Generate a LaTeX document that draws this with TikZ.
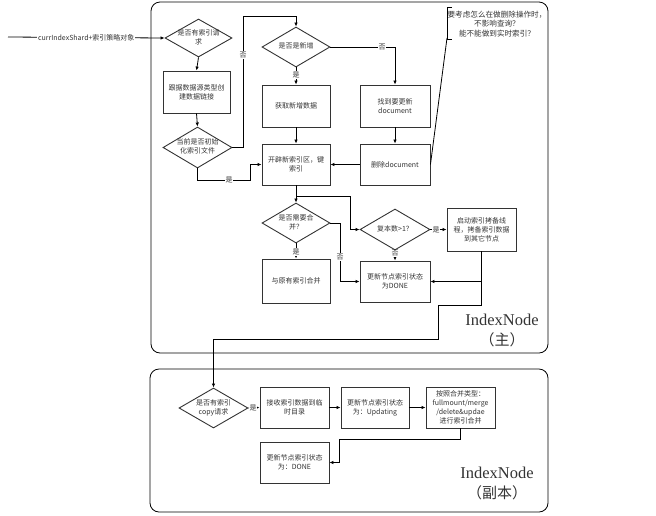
\documentclass[tikz,border=0pt]{standalone}
\usepackage{fontspec}
\setmainfont{Liberation Serif}
\newfontfamily\cjk{Noto Sans CJK SC}
\usetikzlibrary{shapes.geometric,arrows.meta}

% zero-size centred text block, so a diamond keeps its minimum size
\newcommand\flattext[1]{\makebox[0pt]{\raisebox{-1.8pt}[0pt][0pt]{\begin{tabular}{@{}c@{}}#1\end{tabular}}}}

\begin{document}
\begin{tikzpicture}[x=1pt,y=-1pt,
  every node/.style={font=\cjk\fontsize{7}{9}\selectfont, text=black!80},
  box/.style={draw=black!80, line width=0.9pt, rectangle, align=center, inner sep=0pt},
  dia/.style={draw=black!80, line width=0.9pt, diamond, inner sep=0pt},
  link/.style={line width=0.8pt, -{Latex[length=4pt,width=3.5pt]}},
  wire/.style={line width=0.8pt},
  tag/.style={fill=white, inner sep=0.6pt},
  panel/.style={draw, line width=0.8pt, rounded corners=9pt},
  title/.style={font=\fontsize{16.5}{19}\selectfont},
  titlecjk/.style={font=\cjk\fontsize{15}{18}\selectfont}
]
\useasboundingbox (0,0) rectangle (656,515);

% the two IndexNode panels
\draw[panel] (151,2) rectangle (548,353);
\draw[panel] (150,369) rectangle (548,512);
\node[title] (t1) at (502,320) {IndexNode};
\node[titlecjk] (t1b) at (502,340) {（主）};
\node[title] (t2) at (497,473) {IndexNode};
\node[titlecjk] (t2b) at (497,493) {（副本）};

% primary node: decisions and steps
\node[dia, minimum width=67pt, minimum height=38pt] (D1) at (198.5,38) {\flattext{是否有索引请\\求}};
\node[box, minimum width=67pt, minimum height=42pt] (B1) at (196.5,92) {跟据数据源类型创\\建数据链接};
\node[dia, minimum width=69pt, minimum height=41pt] (D2) at (197.5,147.5) {\flattext{当前是否初始\\化索引文件}};
\node[dia, minimum width=68pt, minimum height=40pt] (D3) at (296,47) {\flattext{是否是新增}};
\node[box, minimum width=68pt, minimum height=42pt] (B2) at (296,106) {获取新增数据};
\node[box, minimum width=70pt, minimum height=42pt] (B3) at (395,106) {找到要更新\\document};
\node[box, minimum width=68pt, minimum height=41pt] (B4) at (296,164.5) {开辟新索引区，键\\索引};
\node[box, minimum width=70pt, minimum height=41pt] (B5) at (395,164.5) {删除document};
\node[dia, minimum width=68pt, minimum height=40pt] (D4) at (296,223) {\flattext{是否需要合\\并？}};
\node[box, minimum width=68pt, minimum height=44pt] (B6) at (296,281) {与原有索引合并};
\node[dia, minimum width=70pt, minimum height=41pt] (D5) at (395,229.5) {\flattext{复本数>1？}};
\node[box, minimum width=70pt, minimum height=41pt] (B7) at (395,281.5) {更新节点索引状态\\为DONE};
\node[box, minimum width=69pt, minimum height=43pt] (B8) at (481.5,229.5) {启动索引拷备线\\程，拷备索引数据\\到其它节点};

% note on the delete step
\node[align=center, font=\cjk\fontsize{7.6}{9.5}\selectfont] (note) at (497,24) {要考虑怎么在做删除操作时，\\不影响查询？\\能不能做到实时索引？};
\coordinate (nb) at (447,38);
\draw[wire] (452,7) -- (447,7) -- (447,39) -- (452,39);
\draw[wire] (B5.east) -- (nb);

% replica node: decisions and steps
\node[dia, minimum width=69pt, minimum height=40pt] (D6) at (213.5,408) {\flattext{是否有索引\\copy请求}};
\node[box, minimum width=69pt, minimum height=41pt] (B9) at (294.5,407.5) {接收索引数据到临\\时目录};
\node[box, minimum width=68pt, minimum height=41pt] (B10) at (375,407.5) {更新节点索引状态\\为：Updating};
\node[box, minimum width=69pt, minimum height=41pt] (B11) at (460.5,407.5) {按照合并类型：\\fullmount/merge\\/delete\&updae\\进行索引合并};
\node[box, minimum width=69pt, minimum height=41pt] (B12) at (294.5,462.5) {更新节点索引状态\\为：DONE};

% incoming request
\coordinate (src) at (8,37);
\draw[link] (src) -- node[tag] (lin) {currIndexShard+索引策略对象} (D1.west);

% connectors of the primary node
\draw[link] (D1.south) -- (B1.north);
\draw[link] (B1.south) -- (D2.north);
\draw[link] (D2.east) -| (243,16) -| (D3.north);
\node[tag] (l1) at (243,55) {否};
\draw[link] (D2.south) |- (250,180) |- (B4.west);
\node[tag] (l2) at (229,180) {是};
\draw[link] (D3.east) -| (B3.north);
\node[tag] (l3) at (382,47) {否};
\draw[link] (D3.south) -- (B2.north);
\node[tag] (l4) at (296,75) {是};
\draw[link] (B2.south) -- (B4.north);
\draw[link] (B3.south) -- (B5.north);
\draw[link] (B5.west) -- (B4.east);
\draw[link] (B4.south) -- (D4.north);
\coordinate (j1) at (296,196);
\draw[link] (j1) -- (350,196) |- (D5.west);
\draw[link] (D4.south) -- (B6.north);
\node[tag] (l5) at (296,252) {是};
\draw[link] (D4.east) -- (340,223) |- (B7.west);
\node[tag] (l6) at (340,257) {否};
\draw[link] (D5.south) -- (B7.north);
\node[tag] (l7) at (395,253.5) {否};
\draw[link] (D5.east) -- (B8.west);
\node[tag] (l8) at (436,229.5) {是};
\draw[link] (B8.south) |- (B7.east);

% hand-over to the replica
\draw[link] (B8.south) |- (438,305) |- (213.5,339) -- (D6.north);

% connectors of the replica node
\draw[link] (D6.east) -- (B9.west);
\node[tag] (l9) at (253,408) {是};
\draw[link] (B9.east) -- (B10.west);
\draw[link] (B10.east) -- (B11.west);
\draw[link] (B11.south) |- (339,439) |- (B12.east);
\end{tikzpicture}
\end{document}
